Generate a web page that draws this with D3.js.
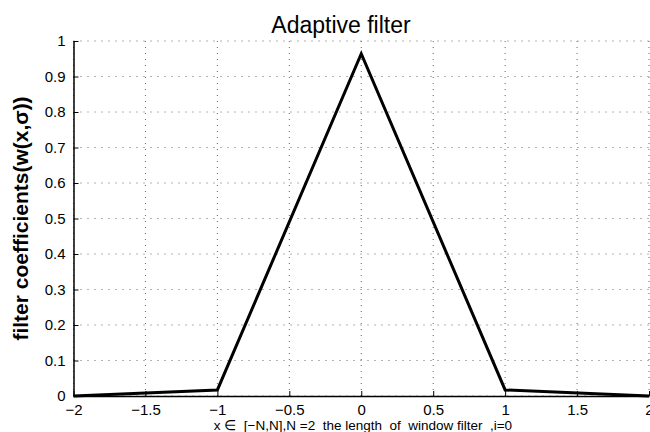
<!DOCTYPE html>
<html>
<head>
<meta charset="utf-8">
<script src="https://cdn.jsdelivr.net/npm/d3@7"></script>
<style>
  body { margin: 0; background: #fff; }
  svg { display: block; font-family: "Liberation Sans", Arial, Helvetica, sans-serif; }
</style>
</head>
<body>
<svg id="target"></svg>
<script>
// Filter window samples
const xs = [-2, -1, 0, 1, 2];
const weights = [0.0003, 0.017, 0.964, 0.017, 0.0003];
const xTicks = [-2, -1.5, -1, -0.5, 0, 0.5, 1, 1.5, 2];
const yTicks = [0, 0.1, 0.2, 0.3, 0.4, 0.5, 0.6, 0.7, 0.8, 0.9, 1];

let margin = {top: 41, right: 1, bottom: 36, left: 73.5},
    width = 650 - margin.left - margin.right,
    height = 432 - margin.top - margin.bottom;

function main() {
    let svg = d3.select("#target")
        .attr("width", 650)
        .attr("height", 432);

    let g = svg.append("g")
        .attr("transform", "translate(" + margin.left + "," + margin.top + ")");

    let x = d3.scaleLinear().domain([-2, 2]).range([0, width]);
    let y = d3.scaleLinear().domain([0, 1]).range([height, 0]);

    // Dotted grid
    g.append("g")
        .selectAll("line")
        .data(xTicks)
        .enter()
        .append("line")
        .attr("x1", d => x(d)).attr("x2", d => x(d))
        .attr("y1", 0).attr("y2", height)
        .attr("stroke", "#666")
        .attr("stroke-width", 1)
        .attr("stroke-dasharray", "1,5");

    g.append("g")
        .selectAll("line")
        .data(yTicks)
        .enter()
        .append("line")
        .attr("x1", 0).attr("x2", width)
        .attr("y1", d => y(d)).attr("y2", d => y(d))
        .attr("stroke", "#666")
        .attr("stroke-width", 1)
        .attr("stroke-dasharray", "1,6");

    // X axis, ticks pointing inward
    let xAxis = g.append("g")
        .attr("transform", "translate(0," + height + ")")
        .call(d3.axisBottom(x).tickValues(xTicks).tickSizeInner(-5).tickSizeOuter(0).tickPadding(8)
            .tickFormat(d3.format("")));
    xAxis.selectAll("text").attr("font-size", 15).attr("fill", "#000");

    // Y axis
    let yAxis = g.append("g")
        .call(d3.axisLeft(y).tickValues(yTicks).tickSizeInner(-5).tickSizeOuter(0).tickPadding(8)
            .tickFormat(d3.format("")));
    yAxis.selectAll("text").attr("font-size", 15).attr("fill", "#000");

    svg.selectAll(".domain").attr("stroke", "#000").attr("stroke-width", 1.5);
    svg.selectAll(".tick line").attr("stroke", "#000");

    // Filter coefficients line
    let line = d3.line()
        .x((d, i) => x(xs[i]))
        .y(d => y(d));

    g.append("path")
        .datum(weights)
        .attr("fill", "none")
        .attr("stroke", "#000")
        .attr("stroke-width", 3)
        .attr("stroke-linejoin", "miter")
        .attr("d", line);

    // Title
    svg.append("text")
        .attr("x", 341)
        .attr("y", 33)
        .attr("text-anchor", "middle")
        .attr("font-size", 23)
        .text("Adaptive filter");

    // X axis label
    svg.append("text")
        .attr("x", 363)
        .attr("y", 430)
        .attr("text-anchor", "middle")
        .attr("font-size", 13.5)
        .style("white-space", "pre")
        .text("x \u2208  [\u2212N,N],N =2  the length  of  window filter  ,i=0");

    // Y axis label
    svg.append("text")
        .attr("transform", "translate(28," + (margin.top + height / 2) + ") rotate(-90)")
        .attr("text-anchor", "middle")
        .attr("font-size", 21)
        .attr("font-weight", "bold")
        .text("filter coefficients(w(x,\u03c3))");
}

main();
</script>
</body>
</html>
